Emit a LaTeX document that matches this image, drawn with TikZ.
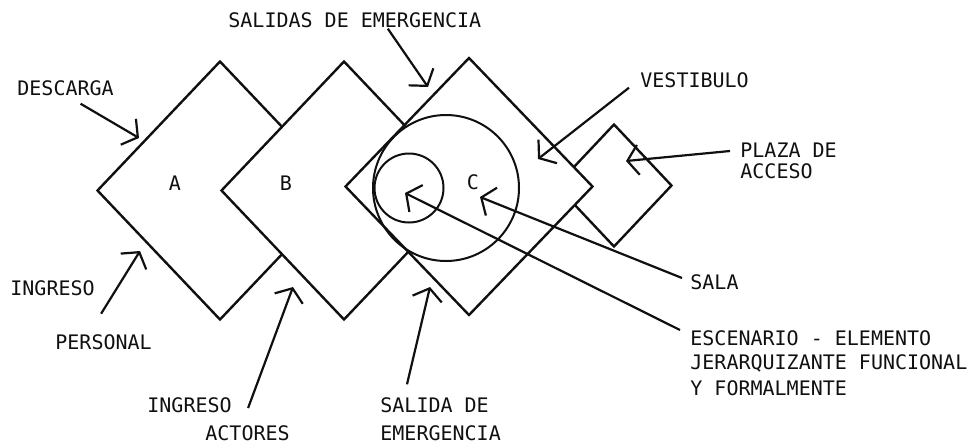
\documentclass[tikz,border=0pt]{standalone}
\usepackage{fontspec}
\setmonofont{DejaVu Sans Mono}
\usetikzlibrary{arrows.meta,positioning,shapes.geometric}
\definecolor{ink}{HTML}{101010}
\tikzset{
  zonebox/.style={shape=diamond, draw=ink, fill=white, line width=1.2pt, inner sep=0pt},
  ringbox/.style={shape=circle, draw=ink, line width=1pt, inner sep=0pt},
  lbl/.style={anchor=west, inner sep=0pt, text=ink, text height=7.3pt, text depth=0pt,
              font=\ttfamily\fontsize{10pt}{12pt}\selectfont},
  zonelbl/.style={inner sep=0pt, text=ink, font=\ttfamily\fontsize{10pt}{12pt}\selectfont},
  arr/.style={-{Straight Barb[length=5.5pt,width=15pt]}, line width=1.1pt, color=ink}}

\begin{document}
\begin{tikzpicture}[x=0.5pt,y=-0.5pt]
  \useasboundingbox (0,0) rectangle (980,446);

  % zones, back to front
  \node[zonebox, minimum width=123pt, minimum height=129.5pt] (zA) at (220,190.5) {};
  \node[zonebox, minimum width=123pt, minimum height=129.5pt] (zB) at (344,190.5) {};
  \node[zonebox, minimum width=58pt, minimum height=61.5pt] (zP) at (614,185.5) {};
  \node[zonebox, minimum width=124pt, minimum height=129pt] (zC) at (469,186.5) {};
  \node[ringbox, minimum size=73pt] (sala) at (446,188) {};
  \node[ringbox, minimum size=34.5pt] (escena) at (409,188) {};
  \node[zonelbl] (lA) at (175,183) {A};
  \node[zonelbl] (lB) at (286,183) {B};
  \node[zonelbl] (lC) at (473,182) {C};

  % labels
  \node[lbl] (salidas) at (228,20) {SALIDAS DE EMERGENCIA};
  \node[lbl] (descarga) at (17,88) {DESCARGA};
  \node[lbl] (vestibulo) at (640,80) {VESTIBULO};
  \node[lbl] (plaza) at (740,150) {PLAZA DE};
  \node[lbl] (acceso) at (740,171) {ACCESO};
  \node[lbl] (ingresop) at (10,288) {INGRESO};
  \node[lbl] (personal) at (55,342) {PERSONAL};
  \node[lbl] (ingresoa) at (147,405) {INGRESO};
  \node[lbl] (actores) at (205,433) {ACTORES};
  \node[lbl] (salida) at (380,405) {SALIDA DE};
  \node[lbl] (emergencia) at (380,433) {EMERGENCIA};
  \node[lbl] (lsala) at (690,282) {SALA};
  \node[lbl] (escenario) at (690,338) {ESCENARIO - ELEMENTO};
  \node[lbl] (jerarq) at (690,362) {JERARQUIZANTE FUNCIONAL};
  \node[lbl] (formal) at (690,388) {Y FORMALMENTE};

  % arrow tips
  \coordinate (tdescarga) at (139,138);
  \coordinate (tingresop) at (140,251);
  \coordinate (tingresoa) at (293,287);
  \coordinate (tsalidas) at (428,87);
  \coordinate (tsalida) at (430,287);
  \coordinate (tvestibulo) at (538,159);
  \coordinate (tplaza) at (626,161);
  \coordinate (tsala) at (480,197);
  \coordinate (tescena) at (405,193);

  \draw[arr] ([shift={(15,8)}]descarga.south) -- (tdescarga);
  \draw[arr] ([shift={(6,18)}]ingresop.south east) -- (tingresop);
  \draw[arr] ([shift={(16,3)}]ingresoa.east) -- (tingresoa);
  \draw[arr] ([shift={(33,1)}]salidas.south) -- (tsalidas);
  \draw[arr] ([shift={(27,-13)}]salida.north west) -- (tsalida);
  \draw[arr] ([shift={(-11,0)}]vestibulo.south west) -- (tvestibulo);
  \draw[arr] ([shift={(-10,1)}]plaza.west) -- (tplaza);
  \draw[arr] ([shift={(-8,-4)}]lsala.west) -- (tsala);
  \draw[arr] ([shift={(-10,-8)}]escenario.west) -- (tescena);
\end{tikzpicture}
\end{document}
